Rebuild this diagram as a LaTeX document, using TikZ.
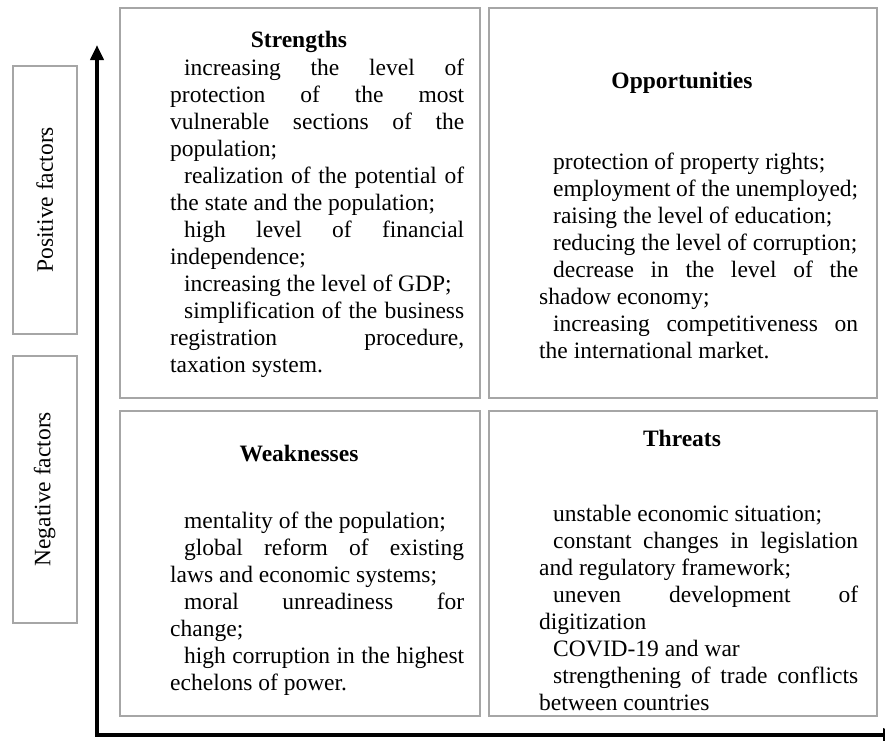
\documentclass[tikz,border=0pt]{standalone}
\usepackage{fontspec}
\setmainfont{Liberation Serif}
\usetikzlibrary{arrows.meta}
\definecolor{boxgray}{HTML}{A6A6A6}
\newcommand{\pstart}{\hspace*{14pt}}
\begin{document}
\begin{tikzpicture}[x=1pt,y=-1pt,
  txt/.style={font=\fontsize{23.5}{27}\selectfont},
  frame/.style={draw=boxgray, line width=1.5pt, inner sep=0pt, anchor=north west},
  heading/.style={txt, font=\fontsize{23.5}{27}\selectfont\bfseries, inner sep=0pt, anchor=base},
  body/.style={txt, inner sep=0pt, anchor=base west, align=justify,
    execute at begin node={\hyphenpenalty=10000\exhyphenpenalty=10000\tolerance=10000\hbadness=10000}},
  side/.style={txt, rotate=90, inner sep=0pt},
  axis/.style={line width=4.5pt, line join=miter, {Triangle[length=15pt,width=13pt]}-{Triangle[length=15pt,width=13pt]}}
]
\useasboundingbox (0,0) rectangle (885,740);
\clip (0,0) rectangle (885,740);

% side labels
\node[frame, minimum width=64pt, minimum height=268pt] (posbox) at (12,65) {};
\node[side] (poslabel) at (posbox.center) {Positive factors};
\node[frame, minimum width=64pt, minimum height=267pt] (negbox) at (12,355) {};
\node[side] (neglabel) at (negbox.center) {Negative factors};

% axes
\coordinate (ytip) at (97,45);
\coordinate (orig) at (97,735);
\coordinate (xtip) at (898,735);
\draw[axis] (ytip) -- (orig) -- (xtip);

% quadrant frames
\node[frame, minimum width=360pt, minimum height=390pt] (sbox) at (119,7) {};
\node[frame, minimum width=388pt, minimum height=390pt] (obox) at (488,7) {};
\node[frame, minimum width=360pt, minimum height=305pt] (wbox) at (119,410) {};
\node[frame, minimum width=388pt, minimum height=305pt] (tbox) at (488,410) {};

% Strengths
\node[heading] (stitle) at (299,47) {Strengths};
\node[body, text width=294pt] (sbody) at (170,75) {%
\pstart increasing the level of\linebreak protection of the most\linebreak vulnerable sections of the\linebreak population;\par
\pstart realization of the potential of\linebreak the state and the population;\par
\pstart high level of financial\linebreak independence;\par
\pstart increasing the level of GDP;\par
\pstart simplification of the business\linebreak registration procedure,\linebreak taxation system.};

% Opportunities
\node[heading] (otitle) at (682,88) {Opportunities};
\node[body, text width=319pt] (obody) at (539,169) {%
\pstart protection of property rights;\par
\pstart employment of the unemployed;\par
\pstart raising the level of education;\par
\pstart reducing the level of corruption;\par
\pstart decrease in the level of the\linebreak shadow economy;\par
\pstart increasing competitiveness on\linebreak the international market.};

% Weaknesses
\node[heading] (wtitle) at (299,461) {Weaknesses};
\node[body, text width=294pt] (wbody) at (170,528) {%
\pstart mentality of the population;\par
\pstart global reform of existing\linebreak laws and economic systems;\par
\pstart moral unreadiness for\linebreak change;\par
\pstart high corruption in the highest\linebreak echelons of power.};

% Threats
\node[heading] (ttitle) at (682,446) {Threats};
\node[body, text width=319pt] (tbody) at (539,521) {%
\pstart unstable economic situation;\par
\pstart constant changes in legislation\linebreak and regulatory framework;\par
\pstart uneven development of\linebreak digitization\par
\pstart COVID-19 and war\par
\pstart strengthening of trade conflicts\linebreak between countries};
\end{tikzpicture}
\end{document}
